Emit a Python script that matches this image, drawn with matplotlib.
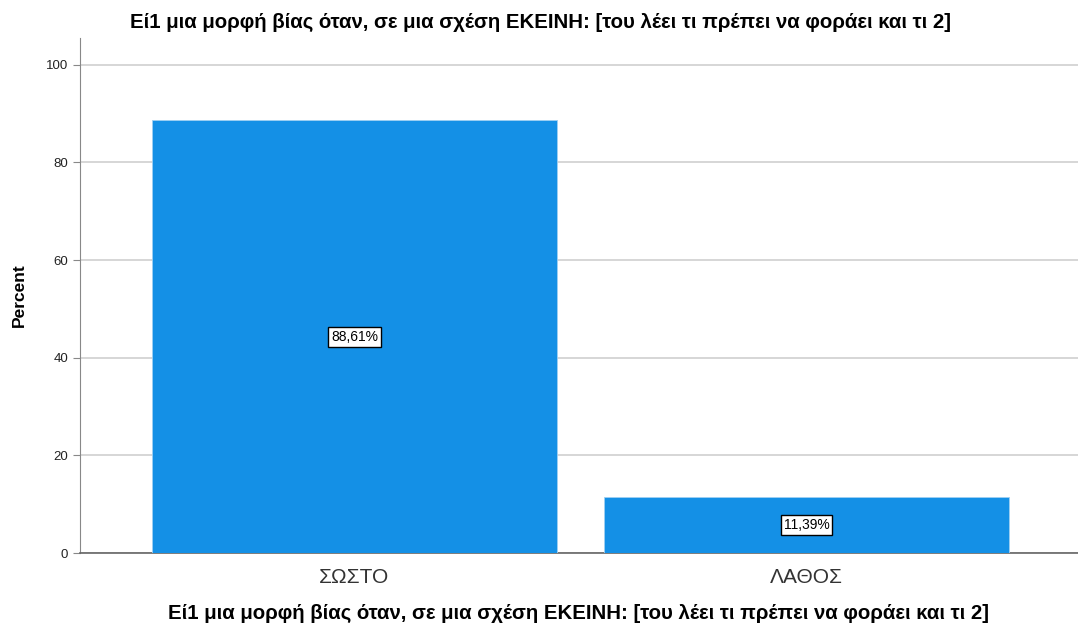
import matplotlib
matplotlib.use("Agg")
import matplotlib.pyplot as plt

categories = ["ΣΩΣΤΟ", "ΛΑΘΟΣ"]
percents = [88.61, 11.39]
labels = ["88,61%", "11,39%"]
title = "Εί1 μια μορφή βίας όταν, σε μια σχέση ΕΚΕΙΝΗ: [του λέει τι πρέπει να φοράει και τι 2]"

plt.rcParams['font.family'] = ['Liberation Sans', 'DejaVu Sans']

fig = plt.figure(figsize=(10.78, 6.3), dpi=100)
ax = fig.add_axes([80/1078, 77/630, 998/1078, 515/630])

x = list(range(len(categories)))
ax.bar(x, percents, width=0.896, color="#1490E6", edgecolor="#9fd0f2", linewidth=0.6, zorder=3)
ax.set_xlim(-0.607, 1.60)
ax.set_ylim(0, 105.5)
ax.set_yticks([0, 20, 40, 60, 80, 100])
ax.yaxis.grid(True, color="#d0d0d0", linewidth=1.2, zorder=0)
ax.set_xticks(x)
ax.set_xticklabels(categories, fontsize=15, color="#333333")
ax.tick_params(axis='x', length=0, pad=11)
ax.tick_params(axis='y', labelsize=9.5, length=5, color="#888888", labelcolor="#222222")
for s in ["top", "right"]:
    ax.spines[s].set_visible(False)
ax.spines["left"].set_color("#888888")
ax.spines["bottom"].set_color("#666666")
ax.spines["bottom"].set_linewidth(1.2)

for xi, v, lab in zip(x, percents, labels):
    ax.text(xi, v / 2, lab, ha="center", va="center", fontsize=10, color="black", zorder=5,
            bbox=dict(boxstyle="square,pad=0.2", facecolor="white", edgecolor="black", linewidth=1))

ax.set_ylabel("Percent", fontsize=12.5, fontweight="bold", labelpad=14)
ax.set_xlabel(title, fontsize=14.7, fontweight="bold", labelpad=12)
fig.text(540/1078, 1 - 22/630, title, ha="center", va="center", fontsize=14.7, fontweight="bold")

fig.savefig("out.png", dpi=100)
